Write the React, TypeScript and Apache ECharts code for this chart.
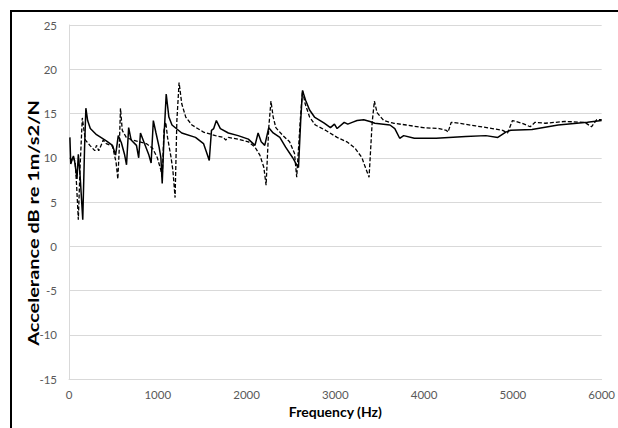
import React, { useEffect, useRef } from "react";
import * as echarts from "echarts";

const xTicks = [0, 1000, 2000, 3000, 4000, 5000, 6000];

const solidFreq = [10, 20, 35, 50, 65, 90, 105, 125, 155, 175, 190, 210, 240, 310, 420, 490, 525, 555, 590, 625, 648, 672, 700, 760, 785, 805, 850, 900, 925, 950, 980, 1015, 1035, 1050, 1070, 1095, 1125, 1160, 1270, 1425, 1515, 1550, 1580, 1605, 1630, 1660, 1705, 1795, 1905, 2020, 2095, 2130, 2165, 2205, 2250, 2300, 2375, 2440, 2520, 2565, 2585, 2610, 2630, 2665, 2710, 2765, 2875, 2945, 2990, 3020, 3100, 3140, 3190, 3245, 3320, 3390, 3445, 3615, 3670, 3725, 3770, 3890, 4135, 4470, 4695, 4830, 4920, 4975, 5215, 5510, 5840, 6000];
const solidDb = [12.3, 9.3, 9.8, 10.2, 9.5, 7.6, 10.4, 8.0, 3.0, 11.0, 15.6, 14.2, 13.3, 12.6, 11.9, 11.4, 10.3, 12.5, 11.7, 10.4, 9.2, 13.4, 12.0, 11.4, 10.0, 12.8, 11.6, 10.3, 9.4, 14.2, 12.8, 11.2, 10.0, 7.1, 12.3, 17.2, 14.6, 13.7, 12.8, 12.3, 11.6, 10.6, 9.7, 13.1, 13.3, 14.2, 13.3, 12.8, 12.5, 12.1, 11.4, 12.8, 11.8, 11.4, 13.4, 12.8, 12.3, 11.2, 10.0, 9.2, 8.9, 14.2, 17.6, 16.5, 15.4, 14.6, 13.9, 13.4, 13.8, 13.3, 14.0, 13.8, 14.0, 14.2, 14.3, 14.1, 13.9, 13.7, 13.3, 12.2, 12.5, 12.2, 12.2, 12.4, 12.5, 12.3, 12.9, 13.1, 13.2, 13.7, 14.0, 14.2];

const dashedFreq = [10, 30, 50, 70, 85, 105, 125, 150, 170, 185, 235, 290, 310, 335, 370, 385, 420, 490, 530, 550, 565, 580, 600, 645, 715, 870, 940, 995, 1035, 1050, 1070, 1090, 1110, 1150, 1170, 1195, 1215, 1240, 1270, 1315, 1385, 1515, 1650, 1740, 1765, 1795, 1905, 2020, 2095, 2150, 2195, 2220, 2250, 2275, 2300, 2330, 2410, 2485, 2540, 2565, 2605, 2630, 2660, 2710, 2775, 2890, 3020, 3130, 3220, 3300, 3335, 3380, 3415, 3440, 3470, 3545, 3655, 3800, 3990, 4170, 4250, 4270, 4305, 4395, 4580, 4770, 4885, 4940, 4995, 5105, 5195, 5250, 5365, 5585, 5810, 5885, 5945, 6000];
const dashedDb = [10.0, 9.7, 10.0, 9.5, 7.0, 3.0, 9.0, 14.5, 13.0, 12.0, 11.4, 10.8, 11.4, 10.8, 11.6, 12.0, 11.6, 11.3, 9.5, 7.6, 10.8, 15.6, 13.1, 12.3, 12.0, 11.6, 11.1, 10.0, 8.6, 7.8, 13.1, 14.0, 12.3, 10.0, 8.6, 5.5, 14.2, 18.5, 16.1, 14.6, 13.7, 12.9, 12.5, 12.3, 12.0, 12.3, 12.1, 11.8, 11.2, 10.3, 8.9, 6.9, 13.4, 16.4, 14.6, 13.4, 12.5, 11.8, 10.5, 7.8, 14.2, 17.6, 16.1, 14.6, 13.7, 13.1, 12.3, 11.8, 11.1, 10.0, 9.0, 7.8, 14.0, 16.4, 15.1, 14.2, 13.9, 13.7, 13.4, 13.3, 13.1, 12.9, 14.0, 13.9, 13.6, 13.3, 13.1, 12.8, 14.2, 13.9, 13.5, 14.0, 13.9, 14.1, 14.0, 13.5, 14.3, 14.3];

const xTitle = "Frequency (Hz)";
const yTitle = "Accelerance dB re 1m/s2/N";

export default function App() {
  const ref = useRef<HTMLDivElement>(null);
  useEffect(() => {
    if (!ref.current) return;
    const chart = echarts.init(ref.current, undefined, { renderer: "svg" });
    const font = "Lato, 'Open Sans', sans-serif";
    chart.setOption({
      animation: false,
      backgroundColor: "#ffffff",
      grid: { left: 69, right: 11, top: 25, bottom: 49, containLabel: false },
      xAxis: {
        type: "value",
        min: xTicks[0],
        max: xTicks[xTicks.length - 1],
        interval: 1000,
        name: xTitle,
        nameLocation: "middle",
        nameGap: 24,
        nameTextStyle: { fontFamily: font, fontWeight: "bold", fontSize: 14, color: "#000" },
        axisLine: { show: true, onZero: false, lineStyle: { color: "#d9d9d9", width: 1 } },
        axisTick: { show: false },
        splitLine: { show: false },
        axisLabel: {
          color: "#595959",
          fontFamily: font,
          fontSize: 11.5,
          margin: 9,
          formatter: (v: number) => String(v),
        },
      },
      yAxis: {
        type: "value",
        min: -15,
        max: 25,
        interval: 5,
        axisLine: { show: true, lineStyle: { color: "#d9d9d9", width: 1 } },
        axisTick: { show: false },
        splitLine: { show: true, lineStyle: { color: "#d9d9d9", width: 1 } },
        axisLabel: { color: "#595959", fontFamily: font, fontSize: 11.5, margin: 12 },
      },
      graphic: [
        {
          type: "line",
          shape: { x1: 11, y1: 11, x2: 11, y2: 428 },
          style: { stroke: "#000", lineWidth: 2 },
          silent: true,
        },
        {
          type: "line",
          shape: { x1: 10, y1: 11, x2: 618, y2: 11 },
          style: { stroke: "#000", lineWidth: 2 },
          silent: true,
        },
        {
          type: "text",
          x: 33,
          y: 223,
          rotation: Math.PI / 2,
          scaleX: 1.33,
          style: {
            text: yTitle,
            font: "bold 15px Lato, 'Open Sans', sans-serif",
            fill: "#000",
            textAlign: "center",
            textVerticalAlign: "middle",
          },
        },
      ],
      series: [
        {
          type: "line",
          name: "dashed",
          data: dashedFreq.map((f, i) => [f, dashedDb[i]]),
          showSymbol: false,
          lineStyle: { color: "#000", width: 1.3, type: [4, 2] },
          z: 2,
        },
        {
          type: "line",
          name: "solid",
          data: solidFreq.map((f, i) => [f, solidDb[i]]),
          showSymbol: false,
          lineStyle: { color: "#000", width: 1.5 },
          z: 3,
        },
      ],
    });
    return () => chart.dispose();
  }, []);
  return (
    <div
      ref={ref}
      style={{ position: "absolute", left: 0, top: 0, width: 618, height: 428 }}
    />
  );
}
